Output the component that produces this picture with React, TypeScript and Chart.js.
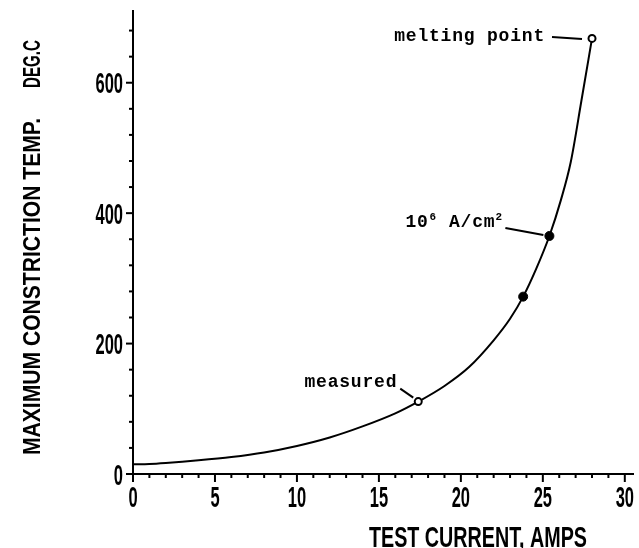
import { useEffect, useRef } from 'react';
import { Chart, registerables } from 'chart.js';

Chart.register(...registerables);

// ---- data ----
const curveX = [0, 1, 2, 4, 6, 8, 10, 12, 14, 16, 17.4, 19, 20.5, 22, 23, 23.8, 24.6, 25.4, 26.1, 26.7, 27.35, 28.0];
const curveY = [15, 15.5, 17, 21, 26, 33, 43, 56, 73, 93, 111, 135, 164, 205, 238, 272, 315, 365, 420, 478, 572, 668];

const openX = [17.4, 28.0];
const openY = [111, 668];
const openLabels = ['measured', 'melting point'];

const filledX = [23.8, 25.4];
const filledY = [272, 365];
const densityLabel = ['10', '6', 'A/cm', '2'];

const xTickValues = [0, 5, 10, 15, 20, 25, 30];
const xTickLabels = ['0', '5', '10', '15', '20', '25', '30'];
const yTickValues = [0, 200, 400, 600];
const yTickLabels = ['0', '200', '400', '600'];

const xTitle = 'TEST CURRENT, AMPS';
const yTitleMain = 'MAXIMUM CONSTRICTION TEMP.';
const yTitleUnit = 'DEG.C';

const LABEL_FONT = 'bold 30px "Liberation Sans", Arial, sans-serif';
const NOTE_FONT = 'bold 18px "Liberation Mono", "DejaVu Sans Mono", monospace';
const SUP_FONT = 'bold 11px "Liberation Mono", "DejaVu Sans Mono", monospace';

function line(ctx: CanvasRenderingContext2D, x1: number, y1: number, x2: number, y2: number) {
  ctx.beginPath();
  ctx.moveTo(x1, y1);
  ctx.lineTo(x2, y2);
  ctx.stroke();
}

function squeezed(ctx: CanvasRenderingContext2D, text: string, x: number, y: number, sx: number, align: CanvasTextAlign) {
  ctx.save();
  ctx.translate(x, y);
  ctx.scale(sx, 1);
  ctx.textAlign = align;
  ctx.fillText(text, 0, 0);
  ctx.restore();
}

function fitted(ctx: CanvasRenderingContext2D, text: string, x: number, y: number, len: number, rotate: boolean) {
  ctx.save();
  ctx.translate(x, y);
  if (rotate) ctx.rotate(-Math.PI / 2);
  const w = ctx.measureText(text).width;
  ctx.scale(len / w, 1);
  ctx.textAlign = 'left';
  ctx.fillText(text, 0, 0);
  ctx.restore();
}

const decor = {
  id: 'decor',
  afterDatasetsDraw(chart: any) {
    const ctx: CanvasRenderingContext2D = chart.ctx;
    const xs = chart.scales.x;
    const ys = chart.scales.y;
    ctx.save();
    ctx.fillStyle = '#000';
    ctx.strokeStyle = '#000';
    ctx.lineWidth = 2;
    ctx.font = NOTE_FONT;
    (ctx as any).letterSpacing = '0.8px';
    ctx.textBaseline = 'alphabetic';

    // measured
    let px = xs.getPixelForValue(openX[0]);
    let py = ys.getPixelForValue(openY[0]);
    ctx.textAlign = 'right';
    ctx.fillText(openLabels[0], px - 21, py - 15);
    line(ctx, px - 18, py - 13, px - 5, py - 4);

    // melting point
    px = xs.getPixelForValue(openX[1]);
    py = ys.getPixelForValue(openY[1]);
    ctx.fillText(openLabels[1], px - 47, py + 3);
    line(ctx, px - 40, py - 1.5, px - 10, py + 0.5);

    // 10^6 A/cm^2
    px = xs.getPixelForValue(filledX[1]);
    py = ys.getPixelForValue(filledY[1]);
    ctx.textAlign = 'left';
    let x0 = px - 144;
    const base = py - 9;
    ctx.font = NOTE_FONT;
    ctx.fillText(densityLabel[0], x0, base);
    x0 += ctx.measureText(densityLabel[0]).width;
    ctx.font = SUP_FONT;
    ctx.fillText(densityLabel[1], x0 + 1, base - 7);
    x0 += ctx.measureText(densityLabel[1]).width + 13;
    ctx.font = NOTE_FONT;
    ctx.fillText(densityLabel[2], x0, base);
    x0 += ctx.measureText(densityLabel[2]).width;
    ctx.font = SUP_FONT;
    ctx.fillText(densityLabel[3], x0, base - 7);
    line(ctx, px - 44, py - 8, px - 6, py - 1);
    ctx.restore();
  },
  afterDraw(chart: any) {
    const ctx: CanvasRenderingContext2D = chart.ctx;
    const xs = chart.scales.x;
    const ys = chart.scales.y;
    const area = chart.chartArea;
    ctx.save();
    ctx.fillStyle = '#000';
    ctx.strokeStyle = '#000';
    ctx.lineWidth = 2;

    // tick marks
    for (let v = 0; v <= 30; v += 1) {
      const p = xs.getPixelForValue(v);
      line(ctx, p, area.bottom, p, area.bottom + (v % 5 === 0 ? 8 : 4));
    }
    for (let v = 0; v <= 680; v += 40) {
      const p = ys.getPixelForValue(v);
      line(ctx, area.left, p, area.left - (v % 200 === 0 ? 7 : 4), p);
    }

    // tick labels
    ctx.font = LABEL_FONT;
    ctx.textBaseline = 'alphabetic';
    xTickValues.forEach((v, i) => {
      squeezed(ctx, xTickLabels[i], xs.getPixelForValue(v), area.bottom + 33, 0.55, 'center');
    });
    yTickValues.forEach((v, i) => {
      squeezed(ctx, yTickLabels[i], area.left - 10, ys.getPixelForValue(v) + 10.5, 0.55, 'right');
    });

    // axis titles
    fitted(ctx, xTitle, 369, 547, 218, false);
    ctx.font = 'bold 24px "Liberation Sans", Arial, sans-serif';
    fitted(ctx, yTitleMain, 40, 455, 337, true);
    fitted(ctx, yTitleUnit, 40, 88, 48, true);
    ctx.restore();
  },
};

export default function App() {
  const ref = useRef<HTMLCanvasElement | null>(null);

  useEffect(() => {
    document.body.style.margin = '0';
    const canvas = ref.current;
    if (!canvas) return;
    const chart = new Chart(canvas, {
      type: 'scatter',
      data: {
        datasets: [
          {
            data: openX.map((x, i) => ({ x, y: openY[i] })),
            pointStyle: 'circle',
            pointRadius: 3.5,
            pointBorderWidth: 2,
            pointBackgroundColor: '#fff',
            pointBorderColor: '#000',
            showLine: false,
          },
          {
            data: filledX.map((x, i) => ({ x, y: filledY[i] })),
            pointStyle: 'circle',
            pointRadius: 4.5,
            pointBorderWidth: 1,
            pointBackgroundColor: '#000',
            pointBorderColor: '#000',
            showLine: false,
          },
          {
            data: curveX.map((x, i) => ({ x, y: curveY[i] })),
            showLine: true,
            pointRadius: 0,
            borderColor: '#000',
            borderWidth: 2,
            cubicInterpolationMode: 'monotone',
            fill: false,
          },
        ],
      },
      options: {
        responsive: false,
        animation: false,
        events: [],
        layout: { padding: { top: 11, right: 1, left: 0, bottom: 0 } },
        plugins: {
          legend: { display: false },
          tooltip: { enabled: false },
          title: { display: false },
        },
        scales: {
          x: {
            type: 'linear',
            min: 0,
            max: 30.5,
            afterFit: (s: any) => { s.height = 74; },
            ticks: { display: false },
            grid: { display: false, drawTicks: false },
            border: { display: true, color: '#000', width: 2 },
          },
          y: {
            type: 'linear',
            min: 0,
            max: 710,
            afterFit: (s: any) => { s.width = 133; },
            ticks: { display: false },
            grid: { display: false, drawTicks: false },
            border: { display: true, color: '#000', width: 2 },
          },
        },
      },
      plugins: [decor],
    } as any);
    return () => chart.destroy();
  }, []);

  return <canvas ref={ref} width={639} height={548} style={{ display: 'block' }} />;
}
